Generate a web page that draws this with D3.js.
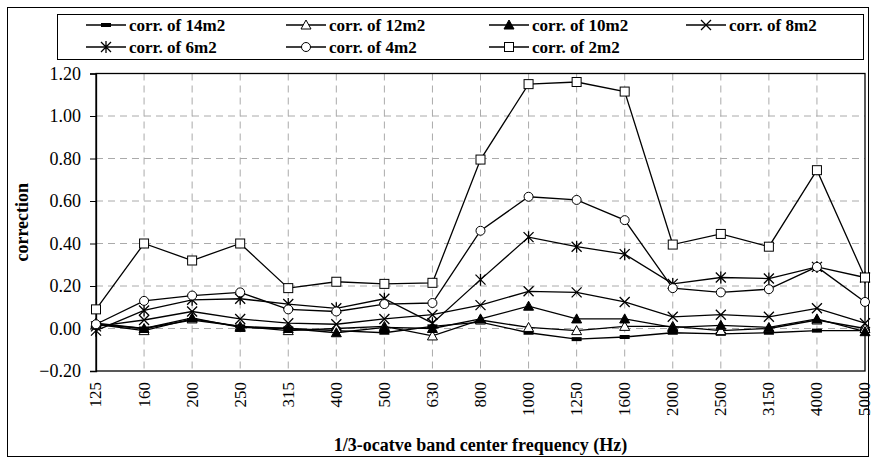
<!DOCTYPE html>
<html><head><meta charset="utf-8">
<script src="https://cdn.jsdelivr.net/npm/d3@7"></script>
</head>
<body style="margin:0;background:#fff">
<svg id="c" width="872" height="459" style="display:block"></svg>
<script>
const categories = ["125","160","200","250","315","400","500","630","800","1000","1250","1600","2000","2500","3150","4000","5000"];
const s14 = [0.02,0.00,0.04,0.01,0.00,-0.01,-0.02,0.01,0.03,-0.02,-0.05,-0.04,-0.02,-0.025,-0.02,-0.01,-0.01];
const s12 = [0.02,-0.01,0.045,0.01,-0.01,0.00,0.01,-0.035,0.04,0.005,-0.01,0.01,0.01,-0.01,0.00,0.04,0.00];
const s10 = [0.025,0.00,0.05,0.005,0.00,-0.02,0.005,0.00,0.045,0.105,0.045,0.045,0.005,0.015,0.005,0.045,-0.015];
const s8 = [0.01,0.04,0.08,0.045,0.025,0.02,0.045,0.065,0.11,0.175,0.17,0.125,0.055,0.065,0.055,0.095,0.025];
const s6 = [-0.01,0.085,0.135,0.14,0.115,0.095,0.14,0.025,0.23,0.43,0.385,0.35,0.21,0.24,0.235,0.29,0.24];
const s4 = [0.02,0.13,0.155,0.17,0.09,0.08,0.115,0.12,0.46,0.62,0.605,0.51,0.19,0.17,0.185,0.29,0.125];
const s2 = [0.09,0.40,0.32,0.40,0.19,0.22,0.21,0.215,0.795,1.15,1.16,1.115,0.395,0.445,0.385,0.745,0.24];
const yTicks = [-0.2,0,0.2,0.4,0.6,0.8,1.0,1.2];
const seriesNames = ["corr. of 14m2","corr. of 12m2","corr. of 10m2","corr. of 8m2","corr. of 6m2","corr. of 4m2","corr. of 2m2"];
const seriesValues = [s14,s12,s10,s8,s6,s4,s2];
const markerTypes = ["dash","triOpen","triFilled","x","star","circle","square"];

const FONT = "'Liberation Serif'";
const svg = d3.select("#c");
const L=96, R=865, T=73.5, B=371;
const x = d3.scalePoint().domain(categories).range([L,R]);
const y = d3.scaleLinear().domain([-0.2,1.2]).range([B,T]);

// outer frame
svg.append("rect").attr("x",7.5).attr("y",7.5).attr("width",861).attr("height",449)
  .attr("fill","none").attr("stroke","#000").attr("stroke-width",1);

// grid
const grid = svg.append("g").attr("stroke","#aaa").attr("stroke-width",1).attr("stroke-dasharray","7,5");
grid.selectAll("line.h").data(yTicks.filter(t=>t>-0.2 && t<1.2)).enter().append("line")
  .attr("x1",L).attr("x2",R).attr("y1",d=>y(d)).attr("y2",d=>y(d));
grid.selectAll("line.v").data(categories.slice(1,-1)).enter().append("line")
  .attr("x1",d=>x(d)).attr("x2",d=>x(d)).attr("y1",T).attr("y2",B);

// plot border
svg.append("rect").attr("x",L).attr("y",T).attr("width",R-L).attr("height",B-T)
  .attr("fill","none").attr("stroke","#000").attr("stroke-width",1.3);

// y axis
const ya = svg.append("g").attr("transform",`translate(${L},0)`)
  .call(d3.axisLeft(y).tickValues(yTicks).tickFormat(d3.format(".2f")).tickSize(6).tickPadding(9));
ya.attr("font-family",null);
ya.select(".domain").attr("stroke","#000").attr("stroke-width",1.3);
ya.selectAll("text").style("font-family",FONT).style("font-size","18px").attr("fill","#000");

// x axis labels
const xa = svg.append("g").attr("transform",`translate(0,${B})`)
  .call(d3.axisBottom(x).tickSize(0));
xa.attr("font-family",null);
xa.select(".domain").remove();
xa.selectAll("text").style("font-family",FONT).style("font-size","17px").attr("fill","#000")
  .attr("transform","rotate(-90)").attr("x",-11).attr("y",-1).attr("dy","0.35em").attr("text-anchor","end");

// axis titles
svg.append("text").attr("x",(L+R)/2).attr("y",451).attr("text-anchor","middle")
  .style("font-family",FONT).style("font-size","18px").style("font-weight","bold").text("1/3-ocatve band center frequency (Hz)");
svg.append("text").attr("transform",`translate(28,${(T+B)/2}) rotate(-90)`).attr("text-anchor","middle")
  .style("font-family",FONT).style("font-size","18px").style("font-weight","bold").text("correction");

function drawMarker(g, type, cx, cy){
  switch(type){
    case "dash": return g.append("rect").attr("x",cx-5).attr("y",cy-2).attr("width",10).attr("height",4).attr("fill","#000");
    case "triOpen": return g.append("path").attr("d",`M${cx},${cy-5}L${cx+5},${cy+4}L${cx-5},${cy+4}Z`).attr("fill","#fff").attr("stroke","#000");
    case "triFilled": return g.append("path").attr("d",`M${cx},${cy-5}L${cx+5},${cy+4}L${cx-5},${cy+4}Z`).attr("fill","#000").attr("stroke","#000");
    case "x": return g.append("path").attr("d",`M${cx-5},${cy-5}L${cx+5},${cy+5}M${cx-5},${cy+5}L${cx+5},${cy-5}`).attr("stroke","#000").attr("stroke-width",1.3).attr("fill","none");
    case "star": return g.append("path").attr("d",`M${cx-5},${cy-5}L${cx+5},${cy+5}M${cx-5},${cy+5}L${cx+5},${cy-5}M${cx},${cy-6}L${cx},${cy+6}`).attr("stroke","#000").attr("stroke-width",1.3).attr("fill","none");
    case "circle": return g.append("circle").attr("cx",cx).attr("cy",cy).attr("r",4.5).attr("fill","#fff").attr("stroke","#000");
    case "square": return g.append("rect").attr("x",cx-4.5).attr("y",cy-4.5).attr("width",9).attr("height",9).attr("fill","#fff").attr("stroke","#000");
  }
}

const line = d3.line().x((d,i)=>x(categories[i])).y(d=>y(d));
const plot = svg.append("g");
seriesValues.forEach((vals)=>{
  plot.append("path").attr("d",line(vals)).attr("fill","none").attr("stroke","#000").attr("stroke-width",1.3);
});
seriesValues.forEach((vals,si)=>{
  const g = plot.append("g");
  vals.forEach((v,i)=>drawMarker(g, markerTypes[si], x(categories[i]), y(v)));
});

// legend
svg.append("rect").attr("x",57.5).attr("y",14.5).attr("width",806).attr("height",45)
  .attr("fill","#fff").attr("stroke","#000").attr("stroke-width",1);
const colX = [86,286,489,686];
const rowY = [25,47];
seriesNames.forEach((name,i)=>{
  const cx = colX[i%4], cy = rowY[Math.floor(i/4)];
  const g = svg.append("g");
  g.append("line").attr("x1",cx).attr("x2",cx+40).attr("y1",cy).attr("y2",cy).attr("stroke","#000").attr("stroke-width",1.3);
  drawMarker(g, markerTypes[i], cx+20, cy);
  g.append("text").attr("x",cx+43).attr("y",cy).attr("dy","0.35em")
    .style("font-family",FONT).style("font-size","17px").style("font-weight","bold").text(name);
});
</script></body></html>
